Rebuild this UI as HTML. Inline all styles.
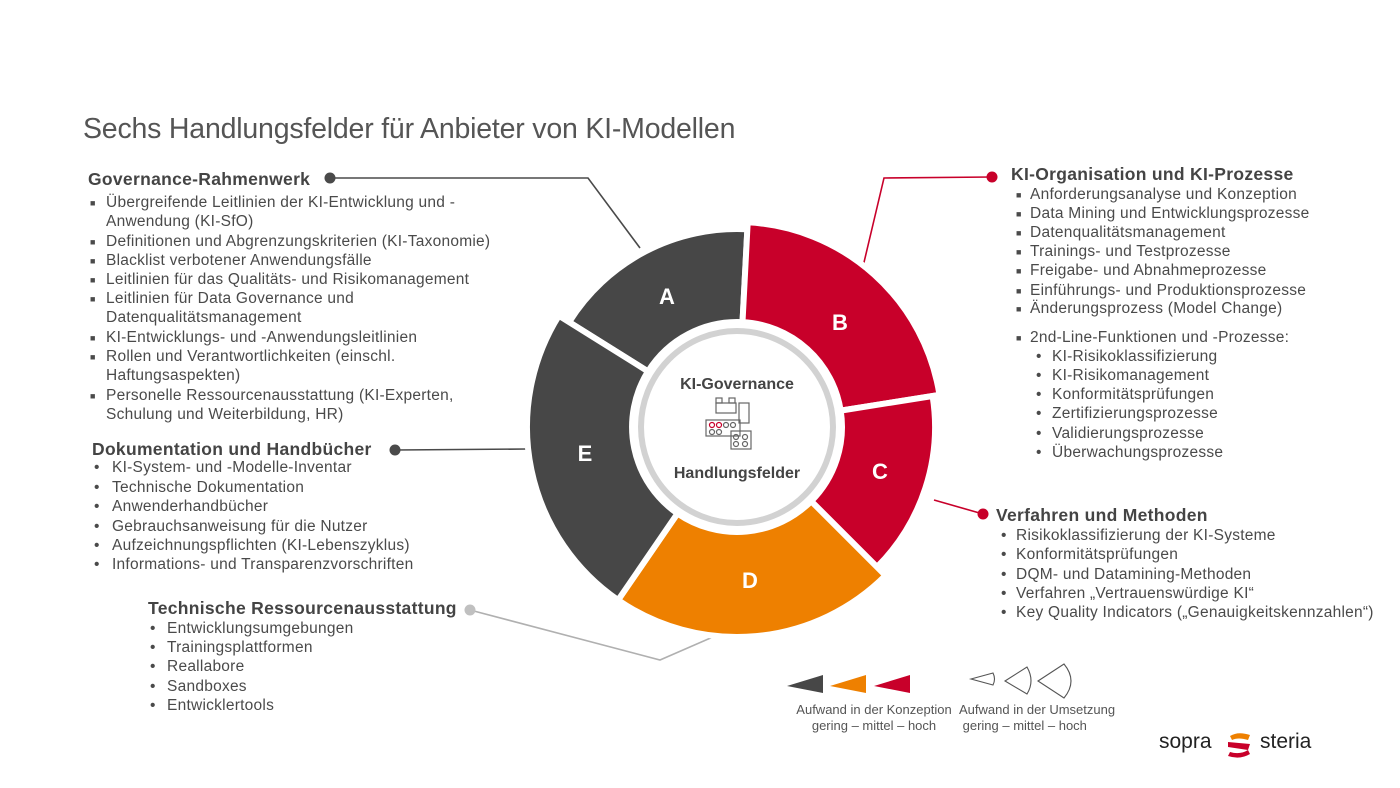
<!DOCTYPE html>
<html><head><meta charset="utf-8"><style>
body{margin:0;width:1400px;height:788px;background:#fff;position:relative;overflow:hidden;font-family:"Liberation Sans",sans-serif;color:#4a4a4a}
.t{position:absolute;white-space:nowrap;font-size:15.5px;letter-spacing:0.25px;line-height:18px}
.h{position:absolute;white-space:nowrap;font-size:17.5px;letter-spacing:0.3px;font-weight:bold;line-height:20px;color:#444}
.b{position:absolute;font-size:9px;line-height:18px}
</style></head><body>
<svg width="1400" height="788" style="position:absolute;left:0;top:0">
<g fill="none" stroke-width="1.6">
<polyline points="330,178 588,178 640,248" stroke="#4a4a4a"/>
<polyline points="992,177 884,178 861,275" stroke="#c8002a"/>
<line x1="934" y1="500" x2="983" y2="514" stroke="#c8002a"/>
<polyline points="470,610 660,660 745,623" stroke="#b0b0b0"/>
<line x1="395" y1="450" x2="527" y2="449" stroke="#4a4a4a"/>
</g>
<circle cx="330" cy="178" r="5.5" fill="#4a4a4a"/>
<circle cx="992" cy="177" r="5.5" fill="#c8002a"/>
<circle cx="983" cy="514" r="5.5" fill="#c8002a"/>
<circle cx="470" cy="610" r="5.5" fill="#c0c0c0"/>
<circle cx="395" cy="450" r="5.5" fill="#4a4a4a"/>
<g stroke="#fff" stroke-width="6" stroke-linejoin="miter">
<path d="M569.1 322.1 A198 198 0 0 1 747.4 229.3 L742.5 322.1 A105 105 0 0 0 648.0 371.4 Z" fill="#474747"/>
<path d="M747.7 222.3 A205 205 0 0 1 939.5 394.9 L840.7 410.6 A105 105 0 0 0 742.5 322.1 Z" fill="#c8002a"/>
<path d="M932.6 396.0 A198 198 0 0 1 877.0 567.0 L811.2 501.2 A105 105 0 0 0 840.7 410.6 Z" fill="#c8002a"/>
<path d="M885.5 575.5 A210 210 0 0 1 618.1 600.1 L677.5 513.5 A105 105 0 0 0 811.2 501.2 Z" fill="#ee8000"/>
<path d="M618.1 600.1 A210 210 0 0 1 558.9 315.7 L648.0 371.4 A105 105 0 0 0 677.5 513.5 Z" fill="#474747"/>
</g>
<circle cx="737" cy="427" r="96" fill="#fff" stroke="#d2d2d2" stroke-width="6"/>
<g fill="#fff" font-family="Liberation Sans,sans-serif" font-weight="bold" font-size="22" text-anchor="middle">
<text x="667" y="304">A</text><text x="840" y="330">B</text><text x="880" y="479">C</text><text x="750" y="588">D</text><text x="585" y="461">E</text>
</g>
<g fill="#444" font-family="Liberation Sans,sans-serif" font-weight="bold" font-size="16" text-anchor="middle">
<text x="737" y="389">KI-Governance</text><text x="737" y="478">Handlungsfelder</text>
</g>
<g fill="none" stroke="#666" stroke-width="1.2">
<rect x="716" y="403" width="20" height="10"/><rect x="716" y="398" width="6" height="5"/><rect x="729" y="398" width="6" height="5"/>
<rect x="739" y="403" width="10" height="20"/>
<rect x="706" y="420" width="34" height="16"/>
<rect x="731" y="431" width="20" height="18"/>
<circle cx="712" cy="425" r="2.5" stroke="#c8002a"/><circle cx="719" cy="425" r="2.5" stroke="#c8002a"/><circle cx="726" cy="425" r="2.5"/><circle cx="733" cy="425" r="2.5"/>
<circle cx="712" cy="432" r="2.5"/><circle cx="719" cy="432" r="2.5"/><circle cx="736" cy="437" r="2.5"/><circle cx="745" cy="437" r="2.5"/><circle cx="736" cy="444" r="2.5"/><circle cx="745" cy="444" r="2.5"/>
</g>
<polygon points="787,686 823,675 823,693" fill="#474747"/>
<polygon points="830,686 866,675 866,693" fill="#ee8000"/>
<polygon points="874,686 910,675 910,693" fill="#c8002a"/>
<g fill="none" stroke="#555" stroke-width="1.1">
<path d="M971 679 L993 673 Q996 679 993 685 Z"/>
<path d="M1005 681 L1027 667 Q1035 681 1027 694 Z"/>
<path d="M1038 681 L1064 664 Q1078 681 1064 698 Z"/>
</g>
<g transform="translate(1228,733)">
<path d="M2 3 Q10 -2 22 2 L20 7 Q10 4 4 7 Z" fill="#ee8000"/>
<path d="M0 9 L22 11 L20 17 L0 14 Z" fill="#c8002a"/>
<path d="M2 19 Q12 22 20 17 L22 21 Q12 27 0 23 Z" fill="#c8002a"/>
</g>
</svg>
<div style="position:absolute;left:83px;top:113px;font-size:28.5px;color:#555;white-space:nowrap;letter-spacing:-0.2px">Sechs Handlungsfelder für Anbieter von KI-Modellen</div>

<div class="h" style="left:88px;top:169px">Governance-Rahmenwerk</div>
<div class="b" style="left:90px;top:194px">■</div><div class="t" style="left:106px;top:194px">Übergreifende Leitlinien der KI-Entwicklung und -</div>
<div class="t" style="left:106px;top:213px">Anwendung (KI-SfO)</div>
<div class="b" style="left:90px;top:233px">■</div><div class="t" style="left:106px;top:233px">Definitionen und Abgrenzungskriterien (KI-Taxonomie)</div>
<div class="b" style="left:90px;top:252px">■</div><div class="t" style="left:106px;top:252px">Blacklist verbotener Anwendungsfälle</div>
<div class="b" style="left:90px;top:271px">■</div><div class="t" style="left:106px;top:271px">Leitlinien für das Qualitäts- und Risikomanagement</div>
<div class="b" style="left:90px;top:290px">■</div><div class="t" style="left:106px;top:290px">Leitlinien für Data Governance und</div>
<div class="t" style="left:106px;top:309px">Datenqualitätsmanagement</div>
<div class="b" style="left:90px;top:329px">■</div><div class="t" style="left:106px;top:329px">KI-Entwicklungs- und -Anwendungsleitlinien</div>
<div class="b" style="left:90px;top:348px">■</div><div class="t" style="left:106px;top:348px">Rollen und Verantwortlichkeiten (einschl.</div>
<div class="t" style="left:106px;top:367px">Haftungsaspekten)</div>
<div class="b" style="left:90px;top:387px">■</div><div class="t" style="left:106px;top:387px">Personelle Ressourcenausstattung (KI-Experten,</div>
<div class="t" style="left:106px;top:406px">Schulung und Weiterbildung, HR)</div>

<div class="h" style="left:92px;top:439px">Dokumentation und Handbücher</div>
<div class="t" style="left:94px;top:459px">•</div><div class="t" style="left:112px;top:459px">KI-System- und -Modelle-Inventar</div>
<div class="t" style="left:94px;top:479px">•</div><div class="t" style="left:112px;top:479px">Technische Dokumentation</div>
<div class="t" style="left:94px;top:498px">•</div><div class="t" style="left:112px;top:498px">Anwenderhandbücher</div>
<div class="t" style="left:94px;top:518px">•</div><div class="t" style="left:112px;top:518px">Gebrauchsanweisung für die Nutzer</div>
<div class="t" style="left:94px;top:537px">•</div><div class="t" style="left:112px;top:537px">Aufzeichnungspflichten (KI-Lebenszyklus)</div>
<div class="t" style="left:94px;top:556px">•</div><div class="t" style="left:112px;top:556px">Informations- und Transparenzvorschriften</div>

<div class="h" style="left:148px;top:598px">Technische Ressourcenausstattung</div>
<div class="t" style="left:150px;top:620px">•</div><div class="t" style="left:167px;top:620px">Entwicklungsumgebungen</div>
<div class="t" style="left:150px;top:639px">•</div><div class="t" style="left:167px;top:639px">Trainingsplattformen</div>
<div class="t" style="left:150px;top:658px">•</div><div class="t" style="left:167px;top:658px">Reallabore</div>
<div class="t" style="left:150px;top:678px">•</div><div class="t" style="left:167px;top:678px">Sandboxes</div>
<div class="t" style="left:150px;top:697px">•</div><div class="t" style="left:167px;top:697px">Entwicklertools</div>

<div class="h" style="left:1011px;top:164px">KI-Organisation und KI-Prozesse</div>
<div class="b" style="left:1016px;top:186px">■</div><div class="t" style="left:1030px;top:186px">Anforderungsanalyse und Konzeption</div>
<div class="b" style="left:1016px;top:205px">■</div><div class="t" style="left:1030px;top:205px">Data Mining und Entwicklungsprozesse</div>
<div class="b" style="left:1016px;top:224px">■</div><div class="t" style="left:1030px;top:224px">Datenqualitätsmanagement</div>
<div class="b" style="left:1016px;top:243px">■</div><div class="t" style="left:1030px;top:243px">Trainings- und Testprozesse</div>
<div class="b" style="left:1016px;top:262px">■</div><div class="t" style="left:1030px;top:262px">Freigabe- und Abnahmeprozesse</div>
<div class="b" style="left:1016px;top:282px">■</div><div class="t" style="left:1030px;top:282px">Einführungs- und Produktionsprozesse</div>
<div class="b" style="left:1016px;top:300px">■</div><div class="t" style="left:1030px;top:300px">Änderungsprozess (Model Change)</div>
<div class="b" style="left:1016px;top:329px">■</div><div class="t" style="left:1030px;top:329px">2nd-Line-Funktionen und -Prozesse:</div>
<div class="t" style="left:1036px;top:348px">•</div><div class="t" style="left:1052px;top:348px">KI-Risikoklassifizierung</div>
<div class="t" style="left:1036px;top:367px">•</div><div class="t" style="left:1052px;top:367px">KI-Risikomanagement</div>
<div class="t" style="left:1036px;top:386px">•</div><div class="t" style="left:1052px;top:386px">Konformitätsprüfungen</div>
<div class="t" style="left:1036px;top:405px">•</div><div class="t" style="left:1052px;top:405px">Zertifizierungsprozesse</div>
<div class="t" style="left:1036px;top:425px">•</div><div class="t" style="left:1052px;top:425px">Validierungsprozesse</div>
<div class="t" style="left:1036px;top:444px">•</div><div class="t" style="left:1052px;top:444px">Überwachungsprozesse</div>

<div class="h" style="left:996px;top:505px">Verfahren und Methoden</div>
<div class="t" style="left:1001px;top:527px">•</div><div class="t" style="left:1016px;top:527px">Risikoklassifizierung der KI-Systeme</div>
<div class="t" style="left:1001px;top:546px">•</div><div class="t" style="left:1016px;top:546px">Konformitätsprüfungen</div>
<div class="t" style="left:1001px;top:566px">•</div><div class="t" style="left:1016px;top:566px">DQM- und Datamining-Methoden</div>
<div class="t" style="left:1001px;top:585px">•</div><div class="t" style="left:1016px;top:585px">Verfahren „Vertrauenswürdige KI“</div>
<div class="t" style="left:1001px;top:604px">•</div><div class="t" style="left:1016px;top:604px">Key Quality Indicators („Genauigkeitskennzahlen“)</div>

<div style="position:absolute;left:788px;top:702px;width:172px;text-align:center;font-size:13px;line-height:16px;color:#555;white-space:nowrap">Aufwand in der Konzeption<br>gering – mittel – hoch</div>
<div style="position:absolute;left:959px;top:702px;width:170px;text-align:left;font-size:13px;line-height:16px;color:#555;white-space:nowrap">Aufwand in der Umsetzung<br>&nbsp;gering – mittel – hoch</div>
<div style="position:absolute;left:1159px;top:730px;font-size:21px;color:#222;white-space:nowrap">sopra</div>
<div style="position:absolute;left:1260px;top:730px;font-size:21px;color:#222;white-space:nowrap">steria</div>
</body></html>
